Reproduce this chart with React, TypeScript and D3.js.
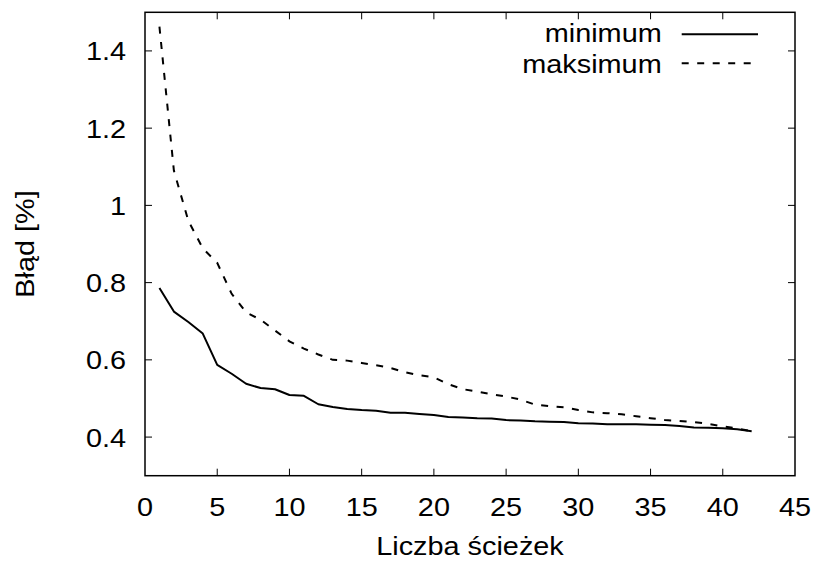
import React, { useEffect, useRef } from "react";
import * as d3 from "d3";

// number of paths (x)
const paths = [1, 2, 3, 4, 5, 6, 7, 8, 9, 10, 11, 12, 13, 14, 15, 16, 17, 18, 19, 20, 21,
  22, 23, 24, 25, 26, 27, 28, 29, 30, 31, 32, 33, 34, 35, 36, 37, 38, 39, 40, 41, 42];

const minimum = [0.786, 0.725, 0.698, 0.668, 0.587, 0.564, 0.538, 0.527, 0.524, 0.509, 0.507,
  0.485, 0.478, 0.473, 0.470, 0.468, 0.463, 0.463, 0.460, 0.457, 0.452, 0.451, 0.449, 0.448,
  0.444, 0.443, 0.441, 0.440, 0.439, 0.436, 0.435, 0.433, 0.433, 0.433, 0.432, 0.431, 0.429,
  0.425, 0.424, 0.423, 0.420, 0.415];

const maksimum = [1.463, 1.09, 0.96, 0.889, 0.851, 0.771, 0.723, 0.704, 0.676, 0.648, 0.629,
  0.614, 0.600, 0.598, 0.592, 0.586, 0.579, 0.568, 0.560, 0.555, 0.537, 0.524, 0.518, 0.511,
  0.505, 0.497, 0.484, 0.480, 0.477, 0.470, 0.464, 0.462, 0.459, 0.454, 0.449, 0.444, 0.442,
  0.439, 0.434, 0.428, 0.422, 0.415];

const xTicks = [0, 5, 10, 15, 20, 25, 30, 35, 40, 45];
const yTicks = [0.4, 0.6, 0.8, 1, 1.2, 1.4];

const FONT = "'Liberation Sans', Arial, Helvetica, sans-serif";
const FS = 26;
const SX = 1.11; // glyphs in the reference are a little wider than tall

export default function App() {
  const ref = useRef<SVGSVGElement | null>(null);

  useEffect(() => {
    const W = 815, H = 561;
    const m = { l: 145, r: 20, t: 12.3, b: 85.3 };
    const svg = d3.select(ref.current);
    svg.selectAll("*").remove();

    const x = d3.scaleLinear().domain([0, 45]).range([m.l, W - m.r]);
    const y = d3.scaleLinear().domain([0.3, 1.5]).range([H - m.b, m.t]);

    const text = (tx: number, ty: number, s: string, anchor: string, rot = 0) =>
      svg.append("text")
        .attr("transform", `translate(${tx},${ty}) rotate(${rot}) scale(${SX},1)`)
        .attr("text-anchor", anchor)
        .attr("font-family", FONT)
        .attr("font-size", FS)
        .attr("fill", "#000")
        .text(s);

    const g = svg.append("g").attr("stroke", "#000").attr("stroke-width", 1);
    const [x0, x1] = x.range();
    const [y0, y1] = y.range();

    // mirrored ticks
    xTicks.forEach(t => {
      if (t === 0 || t === 45) return;
      g.append("line").attr("x1", x(t)).attr("x2", x(t)).attr("y1", y0).attr("y2", y0 - 7);
      g.append("line").attr("x1", x(t)).attr("x2", x(t)).attr("y1", y1).attr("y2", y1 + 7);
    });
    yTicks.forEach(t => {
      g.append("line").attr("x1", x0).attr("x2", x0 + 7).attr("y1", y(t)).attr("y2", y(t));
      g.append("line").attr("x1", x1).attr("x2", x1 - 7).attr("y1", y(t)).attr("y2", y(t));
    });

    xTicks.forEach(t => text(x(t), y0 + 40, String(t), "middle"));
    yTicks.forEach(t => text(126, y(t) + 9.5, String(t), "end"));

    text((x0 + x1) / 2, 555, "Liczba ścieżek", "middle");
    text(34, (y0 + y1) / 2, "Błąd [%]", "middle", -90);

    const line = d3.line<number>().x((_, i) => x(paths[i])).y(d => y(d));

    svg.append("path").datum(minimum).attr("d", line)
      .attr("fill", "none").attr("stroke", "#000").attr("stroke-width", 2)
      .attr("stroke-linejoin", "round");
    svg.append("path").datum(maksimum).attr("d", line)
      .attr("fill", "none").attr("stroke", "#000").attr("stroke-width", 2)
      .attr("stroke-dasharray", "7,8.5");

    // legend
    text(661.7, 41.7, "minimum", "end");
    text(661.7, 72.7, "maksimum", "end");
    svg.append("line").attr("x1", 681.7).attr("x2", 758).attr("y1", 34.3).attr("y2", 34.3)
      .attr("stroke", "#000").attr("stroke-width", 2);
    svg.append("line").attr("x1", 681.7).attr("x2", 758).attr("y1", 63.3).attr("y2", 63.3)
      .attr("stroke", "#000").attr("stroke-width", 2).attr("stroke-dasharray", "7,8.5");

    // frame
    svg.append("rect").attr("x", x0).attr("y", y1).attr("width", x1 - x0).attr("height", y0 - y1)
      .attr("fill", "none").attr("stroke", "#000").attr("stroke-width", 1.5);
  }, []);

  return (
    <svg ref={ref} width={815} height={561}
      style={{ position: "absolute", left: 0, top: 0, background: "#fff" }} />
  );
}
